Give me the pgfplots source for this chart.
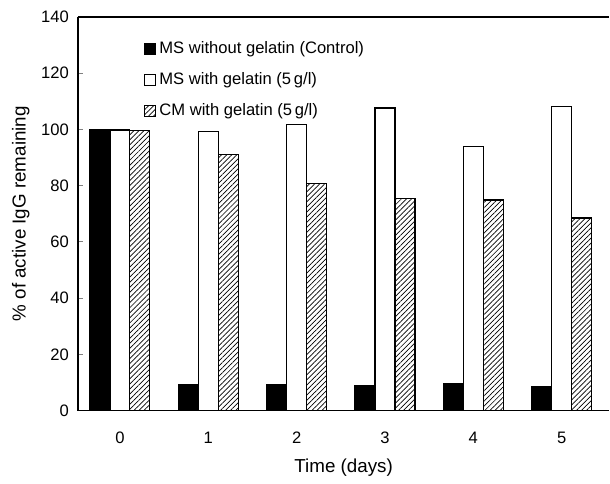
\documentclass[border=0pt]{standalone}
\usepackage{fontspec}
\setmainfont{Liberation Sans}
\usepackage{pgfplots}
\pgfplotsset{compat=1.18}
\usetikzlibrary{patterns.meta}

\tikzset{hatch/.style={pattern={Lines[angle=45,distance=1.8pt,line width=0.35pt]}}}

\begin{document}
\begin{tikzpicture}
\begin{axis}[
    scale only axis,
    width=266pt,
    height=197pt,
    xmin=-0.475, xmax=5.54,
    ymin=0, ymax=140,
    ytick={0,20,...,140},
    xtick={0,1,2,3,4,5},
    axis x line=box,
    axis y line=left,
    axis line style={line width=0.6pt, -},
    major tick length=2.5pt,
    ytick style={line width=0.5pt},
    xtick style={draw=none},
    tick align=inside,
    font=\fontsize{8.3}{10}\selectfont,
    /pgf/number format/assume math mode=true,
    xticklabel style={yshift=-4.5pt},
    yticklabel style={xshift=-1pt},
    xlabel={Time (days)},
    ylabel={\% of active IgG remaining},
    label style={font=\fontsize{9.4}{11}\selectfont},
    xlabel style={yshift=-1pt},
    ylabel style={yshift=-1pt},
    ybar=0pt,
    bar width=0.226,
    legend style={at={(0.112,0.96)}, anchor=north west, draw=none, fill=none,
        font=\fontsize{8.3}{10}\selectfont, row sep=4pt,
        /tikz/every even column/.append style={column sep=0pt}},
    legend cell align=left,
    legend image code/.code={\draw[#1, line width=0.4pt] (0pt,-2.7pt) rectangle (5.4pt,2.7pt);},
]
\addplot[fill=black, draw=black, line width=0.6pt] coordinates {
    (0,100) (1,9.4) (2,9.4) (3,8.8) (4,9.5) (5,8.4)
};
\addplot[fill=white, draw=black, line width=0.6pt] coordinates {
    (0,99.8) (1,99.3) (2,101.7) (3,107.6) (4,93.9) (5,108.2)
};
\addplot[hatch, draw=black, line width=0.6pt] coordinates {
    (0,99.7) (1,91) (2,80.7) (3,75.5) (4,74.9) (5,68.5)
};
\legend{MS without  gelatin (Control), MS with  gelatin (5\,g/l), CM with  gelatin (5\,g/l)}
\end{axis}
\path (current axis.south west) ++(-39pt,-34.5pt);
\path (current axis.north east) ++(0,8.5pt);
\end{tikzpicture}
\end{document}
